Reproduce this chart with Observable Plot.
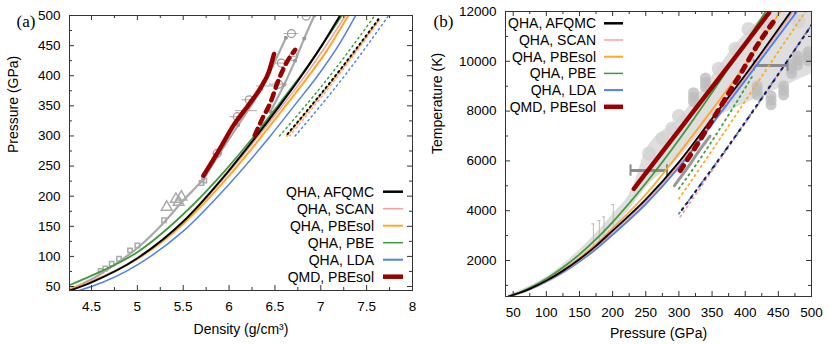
<!DOCTYPE html>
<html><head><meta charset="utf-8">
<script src="https://cdn.jsdelivr.net/npm/d3@7"></script>
<script src="https://cdn.jsdelivr.net/npm/@observablehq/plot@0.6"></script>
<style>body{margin:0;background:#fff}#wrap{display:flex;width:830px;height:344px;background:#fff}</style>
</head><body><div id="wrap"></div>
<script>
// ---------- shared legend ----------
const seriesNames  = ["QHA, AFQMC","QHA, SCAN","QHA, PBEsol","QHA, PBE","QHA, LDA","QMD, PBEsol"];
const seriesColors = ["#000000","#f4a0a0","#ffa726","#3f9a3f","#5080e8","#990000"];
const seriesWidths = [2.5,1.5,2,1.5,2,4.5];

// ---------- panel (a): density (g/cm3) vs pressure (GPa) ----------
const a_AFQMC  = [[4.24,42],[4.5,57],[5,97],[5.5,158],[6,243],[6.3,300],[6.55,350],[6.79,400],[7.01,450],[7.21,500]];
const a_SCAN   = [[4.24,43],[4.5,58],[5,97],[5.5,157],[6,240],[6.3,296],[6.55,344],[6.8,394],[7.03,444],[7.27,500]];
const a_PBEsol = [[4.24,45],[4.5,59],[5,96],[5.5,154],[6,234],[6.3,289],[6.55,337],[6.8,386],[7.05,438],[7.3,500]];
const a_PBE    = [[4.24,51],[4.5,68],[5,107],[5.5,170],[6,250],[6.3,305],[6.55,354],[6.8,404],[7.02,452],[7.23,500]];
const a_LDA    = [[4.33,42],[4.5,50],[5,86],[5.5,142],[6,220],[6.45,300],[6.72,352],[6.99,405],[7.2,452],[7.38,500]];
const a_QMD     = [[5.72,234],[5.87,271],[6.05,318],[6.22,353],[6.36,384],[6.43,405],[6.49,436]];
const a_QMDdash = [[6.28,301],[6.36,328],[6.45,355],[6.52,385],[6.6,414],[6.72,443]];
const a_PBE_hot    = [[6.55,300],[7.10,400],[7.59,500]];
const a_AFQMC_hot  = [[6.62,300],[7.16,400],[7.63,494]];
const a_PBEsol_hot = [[6.63,300],[7.17,400],[7.64,494]];
const a_SCAN_hot   = [[6.66,300],[7.19,400],[7.65,494]];
const a_LDA_hot    = [[6.72,300],[7.26,400],[7.74,500]];
const a_grayLine1 = [[4.3,47],[4.5,62],[4.75,86],[5.0,114],[5.3,158],[5.5,193],[5.72,229],[5.9,272],[6.1,318],[6.35,378],[6.62,463]];
const a_grayLine2 = [[6.45,340],[6.6,385],[6.72,425],[6.82,462],[6.93,500]];
const a_circles   = [[6.84,499,0.03],[6.68,470,0.08],[6.57,421,0.08],[6.70,432,0.03],[6.54,386,0.1],[6.22,360,0.08],[6.09,332,0.08],[5.87,271,0.04]];
const a_errOnly   = [[6.19,342,0.12],[6.40,383,0.1]];
const a_triangles = [[5.32,182],[5.42,195],[5.48,199],[5.45,190]];
const a_squares   = [[5.73,226],[5.70,222],[5.29,160],[5.0,118],[4.92,110],[4.8,96],[4.72,88],[4.65,80],[4.6,76]];
const a_xTicks = [4.5,5,5.5,6,6.5,7,7.5,8];
const a_yTicks = [50,100,150,200,250,300,350,400,450,500];

// ---------- panel (b): pressure (GPa) vs temperature (K) ----------
const b_AFQMC  = [[43,554],[60,704],[75,863],[100,1187],[125,1583],[150,2050],[175,2589],[200,3200],[250,4450],[300,5950],[350,7700],[400,9450],[469,12000]];
const b_SCAN   = [[43,554],[60,701],[75,857],[100,1174],[125,1562],[150,2020],[175,2548],[200,3147],[250,4380],[300,5880],[350,7630],[400,9380],[472,12000]];
const b_PBEsol = [[43,554],[60,709],[75,874],[100,1209],[125,1619],[150,2102],[175,2660],[200,3293],[250,4650],[300,6300],[350,8050],[400,9850],[453,12000]];
const b_PBE    = [[43,554],[60,724],[75,903],[100,1269],[125,1717],[150,2244],[175,2854],[200,3544],[250,5100],[300,6850],[350,8750],[400,10750],[431,12000]];
const b_LDA    = [[43,554],[60,695],[75,844],[100,1149],[125,1521],[150,1960],[175,2467],[200,3041],[250,4270],[300,5750],[350,7480],[400,9230],[478,12000]];
const b_QMD     = [[232,4880],[300,7230],[383,10100],[436,11950]];
const b_QMDdash = [[302,5614],[325,6550],[350,7622],[373,8627],[396,9631],[418,10634],[444,11638]];
const b_PBE_hot    = [[300,4880],[340,6400],[375,7850],[412,9450]];
const b_PBEsol_hot = [[300,4480],[350,6420],[420,9200],[491,12000]];
const b_LDA_hot    = [[300,3880],[370,6430],[435,8920],[500,11450]];
const b_AFQMC_hot  = [[300,3870],[370,6420],[435,8900],[500,11450]];
const b_SCAN_hot   = [[302,3760],[371,6400],[436,8900],[500,11500]];
const b_cloudP  = [43,75,100,150,200,230,250,300,350,400,450,500];
const b_cloudLo = [554,850,1150,2080,3250,4200,4900,6100,7600,8300,8900,9500];
const b_cloudHi = [620,980,1340,2420,3850,4900,6400,7700,9400,11100,12000,12000];
const b_blobsLight = [[255,6300],[275,6900],[300,7800],[360,9700],[385,10500],[405,11300],[290,7300],[430,11500],[480,11600]];
const b_blobsDark  = [[418,8830],[439,8430],[458,8830],[479,10030],[495,10200],[470,9700],[340,9150],[322,8560]];
const b_errH = [[227,282,5614],[413,464,9830]];
const b_errV = [[171,2420,3470],[180,2700,3600],[187,2950,3750],[201,3250,4250]];
const b_grayLine = [[293,5000],[315,5800],[333,6500],[347,7000]];
const b_xTicks = [50,100,150,200,250,300,350,400,450,500];
const b_yTicks = [2000,4000,6000,8000,10000,12000];

// ---------- helpers ----------
const font = "'Liberation Sans', Arial, Helvetica, sans-serif";
const xy = {x: d => d[0], y: d => d[1]};
const line = (data, stroke, w, extra = {}) =>
  Plot.line(data, {...xy, stroke, strokeWidth: w, curve: "monotone-x", clip: true, ...extra});
const range = (a, b, s) => d3.range(a, b + s / 2, s);

function frameTicks(xs, ys, xMajor, yMajor, fw, fh) {
  const out = [];
  for (const v of xs) {
    const L = xMajor(v) ? 5 : 3;
    out.push(Plot.ruleX([v], {x: d => d, insetTop: fh - L, stroke: "#333"}));
    out.push(Plot.ruleX([v], {x: d => d, insetBottom: fh - L, stroke: "#333"}));
  }
  for (const v of ys) {
    const L = yMajor(v) ? 5 : 3;
    out.push(Plot.ruleY([v], {y: d => d, insetRight: fw - L, stroke: "#333"}));
    out.push(Plot.ruleY([v], {y: d => d, insetLeft: fw - L, stroke: "#333"}));
  }
  return out;
}

function legend(pos) {
  return (index, scales, values, dim) => {
    const g = d3.create("svg:g").attr("font-family", font).attr("font-size", 14);
    const fl = dim.marginLeft, fr = dim.width - dim.marginRight;
    const ft = dim.marginTop, fb = dim.height - dim.marginBottom;
    seriesNames.forEach((name, i) => {
      let xe, x1, x2, y;
      if (pos === "a") { xe = fr - 38; x1 = fr - 29; x2 = fr - 9; y = fb - 98.3 + 17 * i; }
      else { xe = fl + 91; x1 = fl + 99; x2 = fl + 118; y = ft + 12.3 + 16.7 * i; }
      g.append("text").attr("x", xe).attr("y", y).attr("dy", "0.35em")
        .attr("text-anchor", "end").attr("fill", "#000").text(name);
      g.append("line").attr("x1", x1).attr("x2", x2).attr("y1", y).attr("y2", y)
        .attr("stroke", seriesColors[i]).attr("stroke-width", seriesWidths[i]);
    });
    return g.node();
  };
}

const [cAF, cSC, cPS, cPB, cLD, cQM] = seriesColors;

// ---------- panel (a) ----------
const aW = 420, aH = 344, aML = 69, aMR = 8, aMT = 15, aMB = 54;
const plotA = Plot.plot({
  width: aW, height: aH, marginLeft: aML, marginRight: aMR, marginTop: aMT, marginBottom: aMB,
  x: {domain: [4.26, 8]}, y: {domain: [43.4, 500]},
  style: {fontFamily: font, fontSize: "13.5px", color: "#000", background: "#fff"},
  marks: [
    line(a_grayLine1, "#a9a9a9", 2.2),
    line(a_grayLine2, "#a9a9a9", 2.2),
    Plot.dot(a_grayLine2, {...xy, r: 2, fill: "#999", clip: true}),
    Plot.dot(a_grayLine1.slice(6), {...xy, r: 2, fill: "#999", clip: true}),
    Plot.ruleY(a_circles, {y: d => d[1], x1: d => d[0] - d[2], x2: d => d[0] + d[2], stroke: "#aaa"}),
    Plot.ruleY(a_errOnly, {y: d => d[1], x1: d => d[0] - d[2], x2: d => d[0] + d[2], stroke: "#aaa"}),
    Plot.dot(a_circles, {...xy, r: 4, stroke: "#999", fill: "none", strokeWidth: 1.2, clip: true}),
    Plot.dot(a_triangles, {...xy, r: 4, symbol: "triangle", stroke: "#aaa", fill: "none"}),
    Plot.dot(a_squares, {...xy, r: 2.5, symbol: "square", stroke: "#aaa", fill: "none"}),
    line(a_PBE_hot, cPB, 1.5, {strokeDasharray: "1.5,3.5"}),
    line(a_LDA_hot, cLD, 1.5, {strokeDasharray: "1.5,3.5"}),
    line(a_SCAN_hot, cSC, 1.5, {strokeDasharray: "1.5,3.5"}),
    line(a_PBEsol_hot, cPS, 1.8, {strokeDasharray: "1.5,3.5"}),
    line(a_AFQMC_hot, cAF, 2, {strokeDasharray: "1.5,3.5", strokeDashoffset: 2.5}),
    line(a_LDA, cLD, 1.5),
    line(a_PBEsol, cPS, 2),
    line(a_SCAN, cSC, 1.5),
    line(a_PBE, cPB, 1.8),
    line(a_AFQMC, cAF, 2),
    line(a_QMD, cQM, 4.5),
    line(a_QMDdash, cQM, 4.5, {strokeDasharray: "7,6"}),
    ...frameTicks(range(4.5, 7.75, 0.25), range(50, 475, 25), v => Math.abs(v * 2 - Math.round(v * 2)) < 1e-6, v => v % 50 === 0, aW - aML - aMR, aH - aMT - aMB),
    Plot.frame({stroke: "#333"}),
    Plot.axisX({ticks: a_xTicks, tickSize: 0, tickPadding: 11, tickFormat: d => String(d), label: null}),
    Plot.axisY({ticks: a_yTicks, tickSize: 0, tickPadding: 9, tickFormat: d => String(d), label: null}),
    Plot.text(["Density (g/cm³)"], {frameAnchor: "bottom", dy: 43, fontSize: 14}),
    Plot.text(["Pressure (GPa)"], {frameAnchor: "left", dx: -56, rotate: -90, fontSize: 14}),
    Plot.text(["(a)"], {frameAnchor: "top-left", dx: -53, dy: -1, fontSize: 17, fontFamily: "'Liberation Serif', 'DejaVu Serif', serif"}),
    legend("a")
  ]
});

// ---------- panel (b) ----------
const bW = 410, bH = 344, bML = 85, bMR = 19, bMT = 11, bMB = 48;
const cloud = b_cloudP.map((p, i) => ({p, lo: b_cloudLo[i], hi: b_cloudHi[i]}));
const errHEnds = b_errH.flatMap(d => [[d[0], d[2]], [d[1], d[2]]]);
const darkEllipse = b_blobsDark.flatMap(d => [[d[0], d[1] - 180], [d[0], d[1]], [d[0], d[1] + 180]]);
const plotB = Plot.plot({
  width: bW, height: bH, marginLeft: bML, marginRight: bMR, marginTop: bMT, marginBottom: bMB,
  x: {domain: [38.4, 500]}, y: {domain: [554, 12000]},
  style: {fontFamily: font, fontSize: "13.5px", color: "#000", background: "#fff"},
  marks: [
    Plot.areaY(cloud, {x: "p", y1: "lo", y2: "hi", fill: "#dedede", curve: "monotone-x", clip: true}),
    Plot.dot(b_blobsLight, {...xy, r: 7, fill: "#d2d2d2", fillOpacity: 0.8, clip: true}),
    Plot.dot(darkEllipse, {...xy, r: 5.5, fill: "#bdbdbd", fillOpacity: 0.8, clip: true}),
    line(b_grayLine, "#999", 3),
    Plot.ruleX(b_errV, {x: d => d[0], y1: d => d[1], y2: d => d[2], stroke: "#bbb"}),
    Plot.ruleY(b_errV, {y: d => d[2], x1: d => d[0] - 2.5, x2: d => d[0] + 2.5, stroke: "#bbb"}),
    Plot.ruleY(b_errH, {y: d => d[2], x1: d => d[0], x2: d => d[1], stroke: "#8a8a8a", strokeWidth: 3}),
    Plot.ruleX(errHEnds, {x: d => d[0], y1: d => d[1] - 230, y2: d => d[1] + 230, stroke: "#8a8a8a", strokeWidth: 2}),
    line(b_LDA, cLD, 2),
    line(b_SCAN, cSC, 2),
    line(b_PBEsol, cPS, 1.8),
    line(b_PBE, cPB, 1.8),
    line(b_AFQMC, cAF, 1.8),
    line(b_PBE_hot, cPB, 1.8, {strokeDasharray: "1.5,4"}),
    line(b_PBEsol_hot, cPS, 1.8, {strokeDasharray: "1.5,4"}),
    line(b_SCAN_hot, cSC, 1.8, {strokeDasharray: "1.5,4"}),
    line(b_LDA_hot, cLD, 1.8, {strokeDasharray: "1.5,4"}),
    line(b_AFQMC_hot, "#112244", 2, {strokeDasharray: "2,5.5", strokeDashoffset: 2.5}),
    line(b_QMDdash, cQM, 5, {strokeDasharray: "6,7"}),
    line(b_QMD, cQM, 4.5),
    ...frameTicks(range(50, 475, 25), range(1000, 11000, 1000), v => v % 50 === 0, v => v % 2000 === 0, bW - bML - bMR, bH - bMT - bMB),
    Plot.frame({stroke: "#333"}),
    Plot.axisX({ticks: b_xTicks, tickSize: 0, tickPadding: 11, tickFormat: d => String(d), label: null}),
    Plot.axisY({ticks: b_yTicks, tickSize: 0, tickPadding: 9, tickFormat: d => String(d), label: null}),
    Plot.text(["Pressure (GPa)"], {frameAnchor: "bottom", dy: 41, fontSize: 14}),
    Plot.text(["Temperature (K)"], {frameAnchor: "left", dx: -68, rotate: -90, fontSize: 14}),
    Plot.text(["(b)"], {frameAnchor: "top-left", dx: -72, dy: 3, fontSize: 17, fontFamily: "'Liberation Serif', 'DejaVu Serif', serif"}),
    legend("b")
  ]
});

document.getElementById("wrap").append(plotA, plotB);
</script></body></html>
